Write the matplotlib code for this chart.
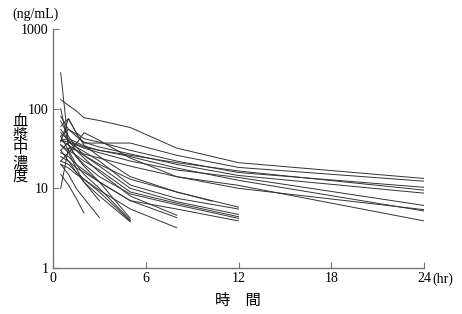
import numpy as np
import matplotlib
matplotlib.use("Agg")
import matplotlib.pyplot as plt

plt.rcParams['font.family'] = ['Liberation Serif', 'Noto Sans CJK JP']

# sampling times (hr) for each group of subjects, grouped by last sample
times_24 = [0.5, 1, 1.5, 2, 3, 5, 8, 12, 24]
times_12 = [0.5, 1, 1.5, 2, 3, 5, 8, 12]
times_10 = [0.5, 1, 1.5, 2, 3, 5, 8, 10.3]
times_8 = [0.5, 1, 1.5, 2, 3, 5, 8]
times_5 = [0.5, 1, 1.5, 2, 3, 5]
times_3 = [0.5, 1, 1.5, 2, 3]
times_2 = [0.5, 1, 1.5, 2]

# plasma concentration (ng/mL) per subject
conc_24 = [
    [130, 110, 94, 77, 71, 58, 32, 21, 13.3],
    [45, 55, 48, 37, 37, 37, 26, 18.3, 12.3],
    [60, 75, 50, 42, 38, 30, 22, 15.8, 10.3],
    [80, 55, 45, 38, 33, 27, 20, 14.5, 8.7],
    [50, 40, 36, 33, 30, 25, 18, 12.6, 5.2],
    [40, 38, 35, 32, 28, 22, 17, 13.7, 6.1],
    [10, 32, 30, 27, 24, 19, 14, 10, 5.4],
    [22, 28, 36, 50, 40, 24, 14, 10.9, 3.9],
    [40, 42, 38, 34, 30, 26, 21, 16.5, 9.5],
]
conc_12 = [
    [30, 38, 33, 29, 22, 11, 7.5, 5.5],
    [35, 30, 26, 22, 17, 9, 6.5, 4.4],
    [25, 22, 18, 16, 12, 7, 5.5, 3.9],
    [38, 75, 50, 35, 25, 14, 9, 5.8],
    [70, 45, 33, 26, 19, 10, 6.8, 4.7],
    [100, 35, 25, 20, 14, 8.5, 6.2, 4.2],
]
conc_10 = [
    [40, 35, 30, 26, 20, 13, 9, 6.9],
]
conc_8 = [
    [28, 25, 20, 17, 12, 7, 4.3],
    [22, 20, 16, 13, 9.5, 5.5, 3.2],
    [55, 40, 30, 24, 16, 8, 4.6],
]
conc_5 = [
    [30, 22, 16, 12, 8, 3.8],
    [45, 30, 20, 15, 10, 4.0],
    [282, 35, 25, 19, 12, 4.2],
    [20, 18, 15, 13, 9, 3.9],
]
conc_3 = [
    [20, 15, 10, 7.5, 4.3],
    [35, 28, 18, 12, 7],
]
conc_2 = [
    [15, 11, 7.5, 4.9],
]

groups = [(times_24, conc_24), (times_12, conc_12), (times_10, conc_10),
          (times_8, conc_8), (times_5, conc_5), (times_3, conc_3),
          (times_2, conc_2)]

fig = plt.figure(figsize=(4.62, 3.14), dpi=100)
ax = fig.add_axes([53 / 462, 46 / 314, 371 / 462, 239 / 314])

for t, subjects in groups:
    for c in subjects:
        ax.plot(t, c, color='#333333', lw=0.7)

ax.set_yscale('log')
ax.set_xlim(0, 24)
ax.set_ylim(1, 1000)
ax.set_xticks([0, 6, 12, 18, 24])
ax.set_xticklabels(['0', '6', '12', '18', '24'])
ax.set_yticks([1, 10, 100, 1000])
ax.set_yticklabels(['1', '10', '100', '1000'])
ax.minorticks_off()
ax.tick_params(direction='in', length=4, width=0.8, color='#777777',
               labelsize=10, pad=3)

for s in ['top', 'right']:
    ax.spines[s].set_visible(False)
for s in ['left', 'bottom']:
    ax.spines[s].set_color('#777777')
    ax.spines[s].set_linewidth(1.0)

ax.text(24.55, 0.87, '(hr)', fontsize=10, va='top', ha='left')
fig.text(12 / 462, 1 - 14 / 314, '(ng/mL)', fontsize=10, va='center', ha='left')
fig.text(20 / 462, 1 - 150 / 314, '血\n漿\n中\n濃\n度', fontsize=11,
         va='center', ha='center', linespacing=0.95)
fig.text(238 / 462, 1 - 301 / 314, '時　間', fontsize=11, va='center', ha='center')

fig.savefig('out.png', dpi=100)
